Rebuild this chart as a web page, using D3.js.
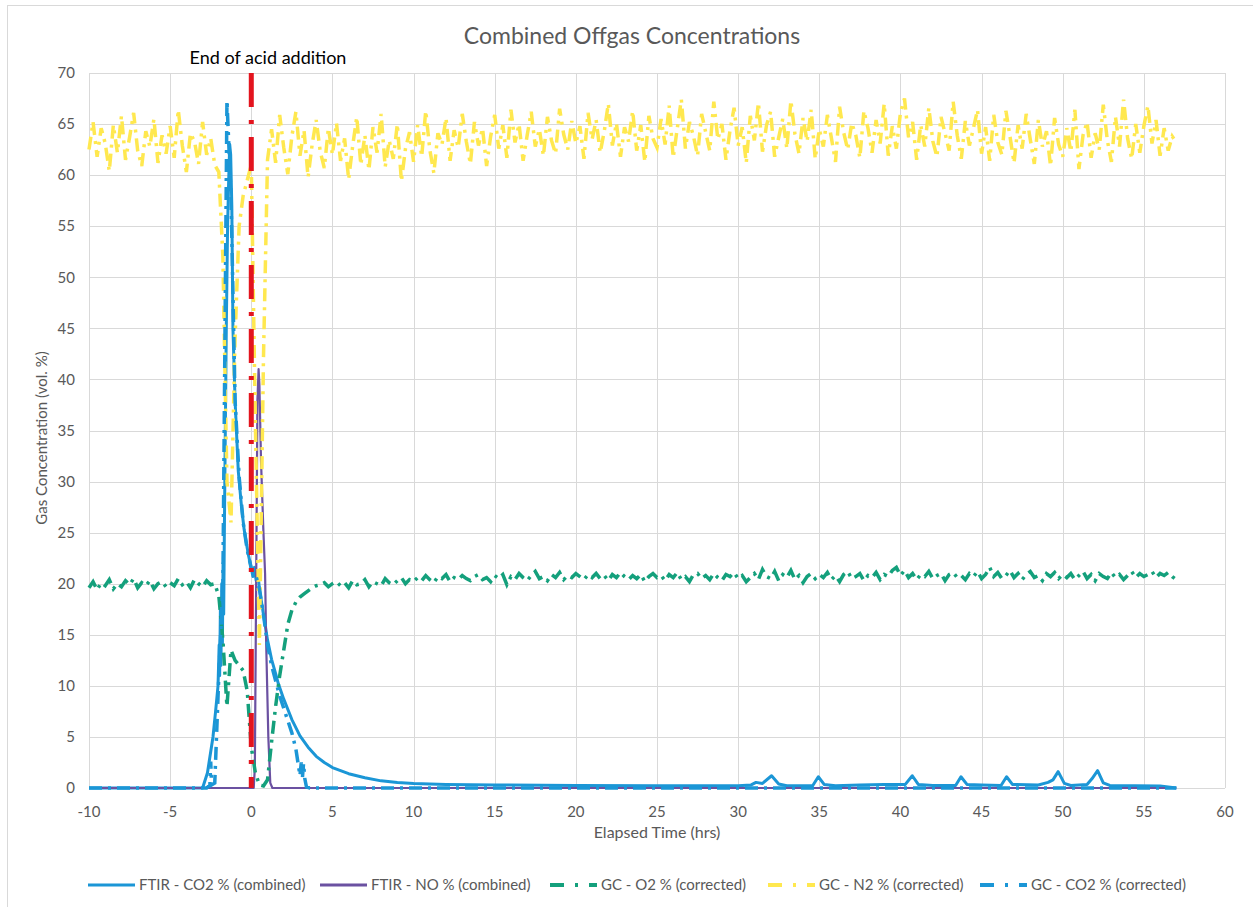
<!DOCTYPE html>
<html>
<head>
  <meta charset="UTF-8">
  <style>
    body { margin: 0; background: white; }
    text { font-family: Lato, "Open Sans", sans-serif; }
  </style>
</head>
<body>
<svg></svg>
<script src="https://d3js.org/d3.v7.min.js"></script>
<script>

let width = 1253, height = 907;

// ---- data ----
// FTIR series: [elapsed hrs, vol %]
let ftirCo2 = [[-10,0],[-3.0,0],[-2.7,1.5],[-2.36,5],[-2.2,7.5],[-2.05,10],[-1.98,14],[-1.95,11],[-1.9,18],[-1.87,12],[-1.82,20],[-1.78,14],
  [-1.74,22],[-1.7,17],[-1.66,25],[-1.6,35],[-1.54,45],[-1.46,55],[-1.4,59],[-1.33,63],[-1.27,62],[-1.2,57],[-1.13,45],[-1.0,38],
  [-0.8,31],[-0.6,27.5],[-0.44,25.3],[-0.2,23],[0.0,21.5],[0.1,20.7],[0.2,21.6],[0.3,20.3],[0.4,21.2],[0.5,19.5],[0.7,17.5],
  [1.0,14.5],[1.25,12.6],[1.5,11.2],[1.67,10.2],[2.0,8.7],[2.5,6.7],[3.0,5.1],[3.5,4.0],[4.0,3.1],[4.5,2.5],[5.0,2.0],[6,1.4],
  [7,1.0],[8,0.7],[9,0.55],[10,0.45],[12,0.35],[15,0.3],[20,0.25],[25,0.22],[30,0.22],[30.8,0.3],[31.1,0.55],[31.5,0.45],
  [32.06,1.2],[32.5,0.4],[33,0.22],[34.6,0.25],[34.94,1.1],[35.3,0.35],[36,0.22],[37.5,0.3],[39,0.35],[40.3,0.35],[40.73,1.2],
  [41.1,0.35],[42,0.25],[43.4,0.25],[43.73,1.1],[44.1,0.35],[45,0.3],[46.2,0.25],[46.54,1.1],[46.9,0.35],[48.5,0.3],[49.1,0.55],
  [49.4,0.8],[49.72,1.6],[50.1,0.45],[50.5,0.25],[51.5,0.35],[51.8,0.9],[52.15,1.7],[52.5,0.5],[52.9,0.25],[56,0.2],[57.0,0]];

let ftirNo = [[-10,0],[0.15,0],[0.22,2],[0.3,20],[0.38,38],[0.45,41],[0.5,39.5],[0.6,32],[0.75,25],[0.85,21],[0.92,14],
  [1.05,5],[1.17,0.5],[1.3,0],[57,0]];

// GC series sampled every 0.25 hr starting at -10 hrs
let gcStart = -10, gcStep = 0.25;

let gcN2 = [
  62.5, 65.2, 61.8, 64.6, 63.1, 60.4, 64.9, 62.2, 65.8, 61.5, 63.7, 66.1, 62.4, 60.9, 64.3, 62.8, 65.5, 61.2, 63.9, 62.1,
  64.8, 61.7, 66.4, 62.9, 60.3, 64.1, 63.3, 61.1, 65.2, 62.0, 63.6,
  61.0, 60.3, 52.0, 30.0, 26.0, 44.0, 55.0, 58.0, 59.5, 61.0, 36.0, 14.0, 42.0, 61.5,
  64.5, 61.2, 65.9, 62.7, 60.1, 63.8, 66.2, 61.9, 64.4, 59.8, 63.0, 65.4, 62.3, 60.7, 64.6, 62.0,
  65.1, 61.4, 63.6, 59.6, 62.9, 65.7, 61.0, 63.9, 60.5, 64.7, 62.2, 66.0, 60.8, 63.4, 61.6, 65.0, 59.4, 62.6, 64.2, 61.3,
  64.9, 61.8, 66.3, 62.5, 60.2, 64.1, 63.0, 65.6, 61.4, 64.4, 62.7, 66.0, 63.3, 61.1, 65.2, 62.9, 64.6, 60.9, 63.8, 65.9,
  62.6, 64.9, 61.7, 66.4, 63.2, 65.0, 61.4, 63.9, 66.2, 62.8, 64.5, 61.9, 65.7, 63.4, 62.1, 66.5, 64.0, 62.5, 65.3, 63.1,
  64.8, 61.6, 66.1, 63.5, 65.4, 62.2, 64.3, 67.0, 62.9, 65.1, 61.8, 64.7, 63.3, 66.3, 62.4, 64.9, 61.3, 65.8, 63.6, 62.7,
  65.5, 63.0, 66.8, 61.7, 64.6, 67.4, 62.6, 65.2, 63.8, 61.9, 66.0, 64.2, 62.4, 67.2, 63.5, 65.0, 61.5, 64.4, 66.6, 62.9,
  64.7, 61.2, 65.8, 63.4, 67.1, 62.3, 64.9, 66.2, 61.8, 63.7, 65.5, 62.6, 67.3, 64.0, 62.1, 65.6, 63.3, 66.4, 61.6, 64.5,
  62.8, 65.9, 63.6, 61.3, 66.7, 64.2, 62.5, 65.1, 63.9, 61.7, 66.3, 64.6, 62.2, 65.4, 63.1, 67.0, 61.9, 64.8, 62.6, 66.1,
  67.5, 63.7, 65.2, 61.5, 64.9, 62.8, 66.6, 63.3, 61.8, 65.7, 64.1, 62.4, 67.2, 63.9, 61.6, 65.3, 62.9, 64.6, 66.4, 62.1,
  64.7, 61.4, 65.9, 63.2, 62.0, 66.3, 63.8, 61.2, 64.9, 62.6, 66.0, 63.5, 61.1, 65.4, 62.8, 64.3, 60.9, 65.6, 63.0, 61.8,
  64.6, 62.3, 66.4, 60.6, 63.9, 65.2, 61.7, 64.1, 62.5, 66.9, 63.4, 61.3, 65.7, 62.8, 67.4, 63.6, 61.6, 65.0, 62.2, 64.8,
  66.8, 63.1, 65.4, 61.9, 64.6, 62.4, 63.8, 63.2];

let gcO2 = [
  19.6, 20.2, 19.4, 20.1, 19.8, 20.4, 19.5, 20.0, 19.7, 20.3, 19.9, 20.5, 19.6, 20.1, 19.8, 20.3, 19.5, 20.0, 20.2, 19.7,
  20.1, 19.8, 20.5, 19.9, 20.2, 19.6, 20.4, 20.0, 19.7, 20.3, 19.9,
  20.0, 18.8, 14.5, 8.0, 13.5, 12.5, 12.0, 11.5, 9.5, 4.0, 1.5, 0.3, 0.2, 0.8,
  4.5, 8.0, 11.0, 13.5, 16.0, 17.4, 18.2, 18.7, 19.0, 19.3, 19.6, 19.8, 19.9, 20.1, 19.7, 20.0,
  20.2, 19.8, 20.1, 19.6, 20.3, 19.9, 20.0, 20.4, 19.7, 20.2, 20.0, 19.8, 20.5, 20.1, 19.9, 20.3, 20.6, 20.0, 20.4, 20.2,
  20.6, 20.3, 20.8, 20.4, 20.1, 20.7, 20.5, 20.9, 20.2, 20.6, 20.4, 20.8, 20.5, 20.3, 20.7, 20.9, 20.4, 20.6, 20.2, 20.8,
  20.5, 20.9, 19.9, 20.7, 20.4, 21.0, 20.6, 20.3, 20.8, 21.2, 20.5, 20.7, 20.3, 20.9, 20.6, 21.1, 20.4, 20.8, 20.6, 21.0,
  20.7, 20.4, 20.9, 20.6, 21.0, 20.5, 20.8, 20.3, 20.9, 20.6, 21.1, 20.7, 20.4, 20.8, 20.5, 20.9, 20.2, 20.7, 21.0, 20.6,
  20.8, 20.3, 20.9, 20.6, 21.1, 20.4, 20.7, 20.2, 20.9, 21.0, 20.5, 20.8, 20.4, 21.0, 20.6, 20.3, 20.9, 20.7, 21.1, 20.5,
  20.8, 20.2, 20.6, 21.0, 20.4, 21.4, 20.7, 20.5, 21.2, 20.3, 20.9, 20.6, 21.3, 20.4, 20.8, 20.1, 20.7, 21.0, 20.5, 20.9,
  20.6, 21.1, 20.4, 20.8, 20.2, 20.9, 21.2, 20.5, 20.7, 21.0, 20.3, 20.8, 20.6, 21.1, 20.4, 20.9, 20.7, 21.3, 21.6, 20.8,
  21.3, 20.6, 21.0, 20.4, 20.9, 20.7, 21.2, 20.5, 20.8, 21.0, 20.3, 20.9, 21.1, 20.6, 20.8, 20.4, 21.0, 20.7, 21.2, 20.5,
  20.9, 21.6, 20.7, 21.1, 20.5, 20.8, 21.3, 20.6, 21.0, 20.4, 20.9, 21.2, 20.6, 20.8, 20.3, 21.0, 20.7, 21.1, 20.5, 20.9,
  20.6, 21.0, 20.4, 20.8, 21.2, 20.5, 20.9, 20.3, 21.0, 20.7, 20.5, 21.1, 20.6, 20.9, 20.4, 20.8, 21.2, 20.6, 21.0, 20.7,
  20.9, 21.2, 20.6, 21.0, 20.8, 21.1, 20.7, 20.4];

// GC CO2 is flat at zero outside the listed points
let gcCo2 = [[-10,0],[-2.75,0],[-2.55,0.3],[-2.5,2.6],[-2.45,0.3],[-2.25,0.5],[-2.0,11],[-1.75,20],[-1.5,67.3],[-1.25,58],
  [-1.0,38],[-0.75,30.5],[-0.5,26],[-0.25,23.3],[0,21.5],[0.25,21],[0.5,19.5],[0.75,17],[1.0,14],[1.25,12],[1.5,10.5],
  [1.75,9],[2.0,7.8],[2.25,6.6],[2.5,5.4],[2.75,3.8],[3.0,1.2],[3.08,2.5],[3.15,1.0],[3.22,2.4],[3.3,0.9],[3.4,0.1],[3.6,0],[57,0]];

let xTicks = d3.range(-10, 61, 5);
let yTicks = d3.range(0, 71, 5);

let seriesNames = ["FTIR - CO2 % (combined)", "FTIR - NO % (combined)", "GC - O2 % (corrected)", "GC - N2 % (corrected)", "GC - CO2 % (corrected)"];
let seriesColors = ["#1b96d6", "#6b51a1", "#14a07c", "#ffe84f", "#1b96d6"];

// ---- drawing ----
let svg = d3.select("svg").attr("width", width).attr("height", height);

let plotLeft = 89, plotRight = 1225, plotTop = 73, plotBottom = 788;
let x = d3.scaleLinear().domain([-10, 60]).range([plotLeft, plotRight]);
let y = d3.scaleLinear().domain([0, 70]).range([plotBottom, plotTop]);

// outer chart frame
svg.append("rect").attr("x", 7.5).attr("y", 5.5).attr("width", 1260).attr("height", 920)
  .attr("fill", "none").attr("stroke", "#d9d9d9");

// grid
svg.append("g").selectAll("line").data(yTicks).join("line")
  .attr("x1", plotLeft).attr("x2", plotRight)
  .attr("y1", d => Math.round(y(d)) + 0.5).attr("y2", d => Math.round(y(d)) + 0.5)
  .attr("stroke", "#d9d9d9");
svg.append("g").selectAll("line").data(xTicks).join("line")
  .attr("y1", plotTop).attr("y2", plotBottom)
  .attr("x1", d => Math.round(x(d)) + 0.5).attr("x2", d => Math.round(x(d)) + 0.5)
  .attr("stroke", "#d9d9d9");

// tick labels
svg.append("g").selectAll("text").data(yTicks).join("text")
  .attr("x", 75).attr("y", d => y(d)).attr("dy", "0.35em")
  .attr("text-anchor", "end").attr("font-size", 15).attr("fill", "#595959")
  .text(d => d);
svg.append("g").selectAll("text").data(xTicks).join("text")
  .attr("x", d => x(d)).attr("y", 812).attr("dy", "0.35em")
  .attr("text-anchor", "middle").attr("font-size", 15).attr("fill", "#595959")
  .text(d => d);

// titles
svg.append("text").attr("x", 632).attr("y", 44).attr("text-anchor", "middle")
  .attr("font-size", 23).attr("fill", "#595959").text("Combined Offgas Concentrations");
svg.append("text").attr("x", 657).attr("y", 838).attr("text-anchor", "middle")
  .attr("font-size", 16).attr("fill", "#595959").text("Elapsed Time (hrs)");
svg.append("text").attr("transform", "translate(47,438) rotate(-90)").attr("text-anchor", "middle")
  .attr("font-size", 15).attr("fill", "#595959").text("Gas Concentration (vol. %)");

let line = d3.line().x(d => x(d[0])).y(d => y(d[1]));
let gcPairs = vals => vals.map((v, i) => [gcStart + i * gcStep, v]);

let gcDash = "13,6,3,6";

svg.append("path").datum(ftirCo2).attr("d", line)
  .attr("fill", "none").attr("stroke", seriesColors[0]).attr("stroke-width", 3).attr("stroke-linejoin", "round");
svg.append("path").datum(ftirNo).attr("d", line)
  .attr("fill", "none").attr("stroke", seriesColors[1]).attr("stroke-width", 2.2).attr("stroke-linejoin", "round");
svg.append("path").datum(gcPairs(gcO2)).attr("d", line)
  .attr("fill", "none").attr("stroke", seriesColors[2]).attr("stroke-width", 3.5).attr("stroke-dasharray", gcDash);
svg.append("path").datum(gcPairs(gcN2)).attr("d", line)
  .attr("fill", "none").attr("stroke", seriesColors[3]).attr("stroke-width", 3.5).attr("stroke-dasharray", gcDash);
svg.append("path").datum(gcCo2).attr("d", line)
  .attr("fill", "none").attr("stroke", seriesColors[4]).attr("stroke-width", 3.5).attr("stroke-dasharray", gcDash);

// end of acid addition marker
svg.append("line").attr("x1", x(0)).attr("x2", x(0)).attr("y1", plotTop).attr("y2", plotBottom)
  .attr("stroke", "#e3141e").attr("stroke-width", 5).attr("stroke-dasharray", "34,13,4,13");
svg.append("text").attr("x", 268).attr("y", 64).attr("text-anchor", "middle")
  .attr("font-size", 18).attr("fill", "#000").text("End of acid addition");

// legend
let legendX = [88, 320, 550, 768, 980];
let legend = svg.append("g").selectAll("g").data(seriesNames).join("g")
  .attr("transform", (d, i) => `translate(${legendX[i]},885)`);
legend.append("line").attr("x1", 0).attr("x2", 47).attr("y1", 0).attr("y2", 0)
  .attr("stroke", (d, i) => seriesColors[i])
  .attr("stroke-width", (d, i) => i < 2 ? 3 : 4)
  .attr("stroke-dasharray", (d, i) => i < 2 ? null : "14,11,3,11");
legend.append("text").attr("x", 51).attr("y", 0).attr("dy", "0.35em")
  .attr("font-size", 15).attr("fill", "#595959").text(d => d);

</script>
</body>
</html>
